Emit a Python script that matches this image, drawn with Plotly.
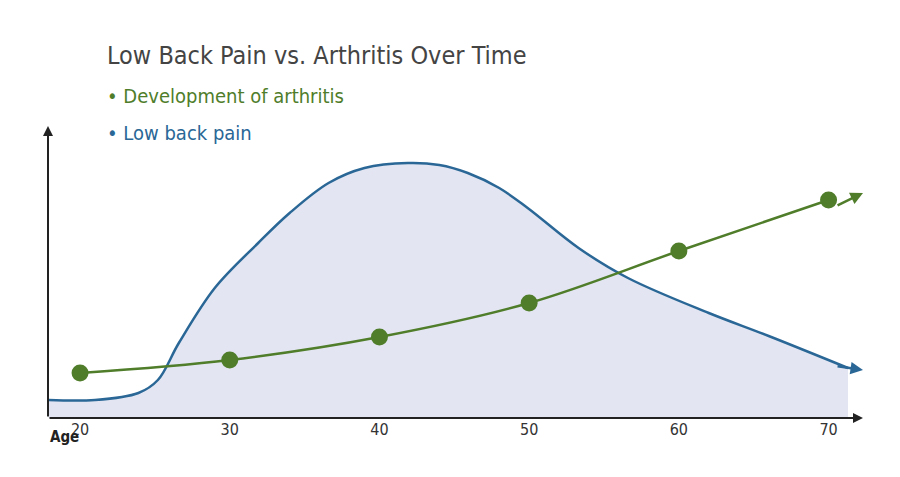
import plotly.graph_objects as go

ages = [20, 30, 40, 50, 60, 70]
arthritis = [45, 58, 81, 115, 167, 218]
pain_age = [17.9, 21, 23.9, 25.2, 26.6, 29, 31.9, 34, 36.6, 39, 41.9, 44, 45.9, 48, 49.9, 53.3, 56.6, 62, 66, 71.3]
pain_val = [18, 18, 25, 38, 75, 130, 175, 205, 235, 250, 255, 253, 245, 230, 210, 170, 140, 105, 82, 50]
tick_labels = ["20", "30", "40", "50", "60", "70"]

green = "#4f7d2a"
blue = "#2a6796"
FONT = "DejaVu Sans Condensed, Liberation Sans Narrow, Roboto"
L, R, T, B = 40, 855, 118, 410

def px(x):
    return (x - L) / (R - L)

def py(y):
    return (B - y) / (B - T)

fig = go.Figure()
fig.add_trace(go.Scatter(x=pain_age, y=pain_val, mode="lines", line=dict(color=blue, width=2.5, shape="spline"),
                         fill="tozeroy", fillcolor="#e3e6f2"))
fig.add_trace(go.Scatter(x=ages, y=arthritis, mode="lines+markers", line=dict(color=green, width=2.5, shape="spline"),
                         marker=dict(size=17, color=green)))
for x, y, ax, ay, c, w in [(72.3, 225, 70.5, 212, green, 2.5), (72.3, 48, 70.5, 52, blue, 2.5),
                           (72.3, 0, 17.86, 0, "#222", 2), (17.86, 292, 17.86, 0, "#222", 2)]:
    fig.add_annotation(x=x, y=y, ax=ax, ay=ay, xref="x", yref="y", axref="x", ayref="y", text="",
                       arrowhead=2, arrowcolor=c, arrowwidth=w)
fig.add_annotation(x=px(40), y=py(440), xref="paper", yref="paper", text="<b>Age</b>", showarrow=False,
                   font=dict(family=FONT, size=15, color="#222"))
fig.add_annotation(x=px(97), y=py(48), xref="paper", yref="paper", xanchor="left", yanchor="middle",
                   text="Low Back Pain vs. Arthritis Over Time", showarrow=False,
                   font=dict(family=FONT, size=25, color="#444"))
fig.add_annotation(x=px(97), y=py(88), xref="paper", yref="paper", xanchor="left", yanchor="middle",
                   text="• Development of arthritis", showarrow=False,
                   font=dict(family=FONT, size=20, color=green))
fig.add_annotation(x=px(97), y=py(125), xref="paper", yref="paper", xanchor="left", yanchor="middle",
                   text="• Low back pain", showarrow=False,
                   font=dict(family=FONT, size=20, color=blue))

fig.update_layout(
    width=900, height=477, margin=dict(l=L, r=900 - R, t=T, b=477 - B),
    paper_bgcolor="white", plot_bgcolor="white", showlegend=False,
    xaxis=dict(range=[17.86, 72.3], tickvals=ages, ticktext=tick_labels, showgrid=False, zeroline=False,
               showline=False, ticks="", tickfont=dict(family=FONT, size=16, color="#333")),
    yaxis=dict(range=[0, 292], showgrid=False, zeroline=False, showticklabels=False, showline=False),
)
fig.write_html("out.html")
